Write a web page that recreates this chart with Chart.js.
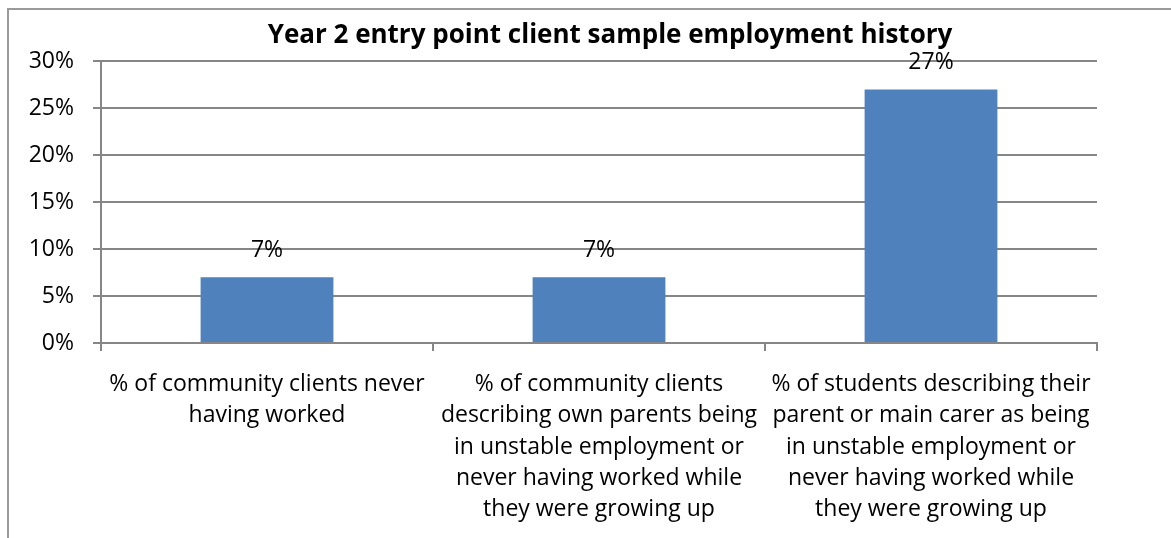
<!DOCTYPE html>
<html>
<head>
<meta charset="utf-8">
<script src="https://cdn.jsdelivr.net/npm/chart.js@4"></script>
<style>
  html, body { margin: 0; padding: 0; background: #fff; overflow: hidden; }
  #frame {
    position: absolute; left: 7px; top: 8px;
    width: 2000px; height: 2000px;
    border: 2px solid #9a9a9a; box-sizing: border-box;
  }
  #wrap { position: absolute; left: 0; top: 0; width: 1220px; height: 538px; }
</style>
</head>
<body>
<div id="frame"></div>
<div id="wrap"><canvas id="myChart" width="1220" height="538"></canvas></div>
<script>
const titleText = "Year 2 entry point client sample employment history";
const categories = [
  ["% of community clients never", "having worked"],
  ["% of community clients", "describing own parents being", "in unstable employment or", "never having worked while", "they were growing up"],
  ["% of students describing their", "parent or main carer as being", "in unstable employment or", "never having worked while", "they were growing up"],
];
const values = [7, 7, 27];
const yTicks = [0, 5, 10, 15, 20, 25, 30];

const FONT = "'Open Sans', Lato, sans-serif";
const GRID = "#868686";

// writes the value above each bar
const valueLabels = {
  id: "valueLabels",
  afterDatasetsDraw(chart) {
    const ctx = chart.ctx;
    const meta = chart.getDatasetMeta(0);
    ctx.save();
    ctx.font = "23px " + FONT;
    ctx.fillStyle = "#000";
    ctx.textAlign = "center";
    ctx.textBaseline = "middle";
    meta.data.forEach(function (bar, i) {
      ctx.fillText(values[i] + "%", bar.x, bar.y - 27);
    });
    ctx.restore();
  },
};

const ctx = document.getElementById("myChart").getContext("2d");

new Chart(ctx, {
  type: "bar",
  data: {
    labels: categories,
    datasets: [
      {
        data: values,
        backgroundColor: "#4f81bd",
        borderWidth: 0,
        barPercentage: 1,
        categoryPercentage: 0.4,
      },
    ],
  },
  options: {
    responsive: false,
    animation: false,
    layout: { padding: 0 },
    plugins: {
      legend: { display: false },
      tooltip: { enabled: false },
      title: {
        display: true,
        text: titleText,
        color: "#000",
        font: { family: FONT, size: 26, weight: "bold", lineHeight: 1.2 },
        padding: { top: 20, bottom: 10 },
      },
    },
    scales: {
      x: {
        afterFit: function (scale) { scale.height = 195; },
        grid: {
          offset: true,
          drawOnChartArea: false,
          drawTicks: true,
          tickLength: 8,
          color: GRID,
          lineWidth: 2,
        },
        border: { color: GRID, width: 2 },
        ticks: {
          color: "#000",
          padding: 18,
          maxRotation: 0,
          autoSkip: false,
          font: { family: FONT, size: 23, lineHeight: 1.36 },
        },
      },
      y: {
        min: 0,
        max: 30,
        afterFit: function (scale) { scale.width = 101; },
        afterBuildTicks: function (scale) {
          scale.ticks = yTicks.map(function (v) { return { value: v }; });
        },
        grid: { color: GRID, lineWidth: 2, tickLength: 8 },
        border: { color: GRID, width: 2 },
        ticks: {
          color: "#000",
          padding: 19,
          font: { family: FONT, size: 23 },
          callback: function (v) { return v + "%"; },
        },
      },
      // empty margin on the right of the plot
      yr: {
        type: "linear",
        position: "right",
        afterFit: function (scale) { scale.width = 123; },
        grid: { display: false },
        border: { display: false },
        ticks: { display: false },
      },
    },
  },
  plugins: [valueLabels],
});
</script>
</body>
</html>
